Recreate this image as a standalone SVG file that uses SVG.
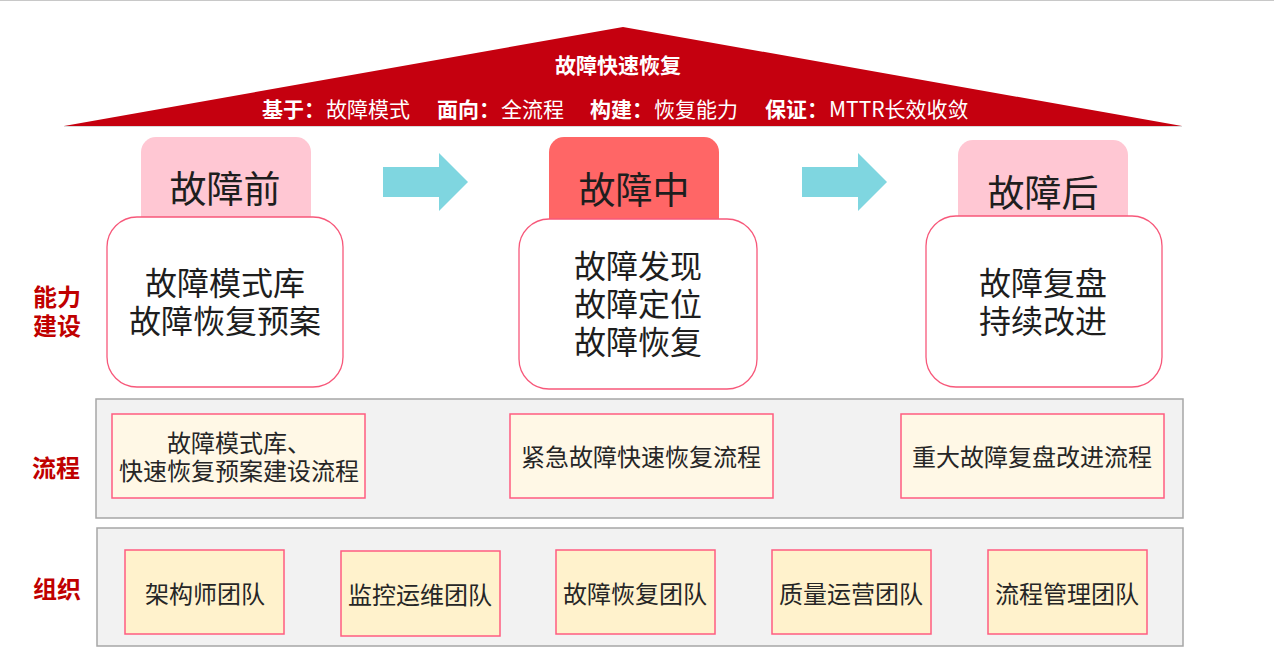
<svg xmlns="http://www.w3.org/2000/svg" width="1274" height="662" viewBox="0 0 1274 662">
<defs>
<style>
text{font-family:"Noto Sans CJK SC","Microsoft YaHei",sans-serif;dominant-baseline:central;}
.roof{fill:#C5000F;}
.wt{fill:#FFFFFF;font-size:21px;}
.b{font-weight:bold;}
.tabp{fill:#FFC7D3;}
.tabr{fill:#FF6666;}
.ph{fill:#1E1E1E;font-size:37px;text-anchor:middle;}
.card{fill:#FFFFFF;stroke:#F7587A;stroke-width:1.3;}
.ct{fill:#1E1E1E;font-size:32px;text-anchor:middle;}
.side{fill:#C00000;font-size:24px;font-weight:bold;text-anchor:middle;}
.band{fill:#F2F2F2;stroke:#A6A6A6;stroke-width:1.5;}
.proc{fill:#FFF8E6;stroke:#FF5C80;stroke-width:1.5;}
.org{fill:#FFF2CC;stroke:#FF5C80;stroke-width:1.5;}
.bt{fill:#262626;font-size:24px;text-anchor:middle;}
.arrow{fill:#7FD6E0;}
</style>
</defs>
<rect x="0" y="0" width="1274" height="662" fill="#FFFFFF"/>
<line x1="0" y1="0.5" x2="1274" y2="0.5" stroke="#C8C8C8" stroke-width="1"/>

<g id="roof">
<polygon class="roof" points="623,27 1182,126 64,126"/>
<line x1="64" y1="126.5" x2="1182" y2="126.5" stroke="#D9D9D9" stroke-width="1"/>
<text class="wt b" x="618" y="64" text-anchor="middle">故障快速恢复</text>
<text class="wt" y="108"><tspan class="b" x="262">基于：</tspan><tspan x="326">故障模式</tspan><tspan class="b" x="437">面向：</tspan><tspan x="501">全流程</tspan><tspan class="b" x="590">构建：</tspan><tspan x="654">恢复能力</tspan><tspan class="b" x="765">保证：</tspan><tspan x="829">MTTR长效收敛</tspan></text>
</g>

<g id="side-labels">
<text class="side" y="295"><tspan x="57">能力</tspan><tspan x="57" dy="29">建设</tspan></text>
<text class="side" x="56" y="466">流程</text>
<text class="side" x="57" y="587">组织</text>
</g>

<g id="phase-before">
<rect class="tabp" x="141" y="137" width="170" height="100" rx="15"/>
<text class="ph" x="225" y="187">故障前</text>
<rect class="card" x="107" y="217" width="236" height="170" rx="30"/>
<text class="ct" y="281"><tspan x="225">故障模式库</tspan><tspan x="225" dy="38">故障恢复预案</tspan></text>
</g>

<g id="phase-during">
<rect class="tabr" x="549" y="137" width="170" height="100" rx="15"/>
<text class="ph" x="634" y="188">故障中</text>
<rect class="card" x="519" y="219" width="238" height="170" rx="30"/>
<text class="ct" y="264"><tspan x="638">故障发现</tspan><tspan x="638" dy="38">故障定位</tspan><tspan x="638" dy="38">故障恢复</tspan></text>
</g>

<g id="phase-after">
<rect class="tabp" x="958" y="140" width="170" height="100" rx="15"/>
<text class="ph" x="1043" y="191">故障后</text>
<rect class="card" x="926" y="216" width="236" height="171" rx="30"/>
<text class="ct" y="281"><tspan x="1043">故障复盘</tspan><tspan x="1043" dy="38">持续改进</tspan></text>
</g>

<g id="connectors">
<polygon class="arrow" points="383,167 439,167 439,153 468,182 439,211 439,197 383,197"/>
<polygon class="arrow" points="802,167 858,167 858,153 887,182 858,211 858,197 802,197"/>
</g>

<g id="process-band">
<rect class="band" x="96" y="399" width="1087" height="119"/>
</g>
<g id="proc-1">
<rect class="proc" x="112" y="414" width="253" height="84"/>
<text class="bt" y="441"><tspan x="239">故障模式库、</tspan><tspan x="239" dy="28">快速恢复预案建设流程</tspan></text>
</g>
<g id="proc-2">
<rect class="proc" x="510" y="414" width="263" height="84"/>
<text class="bt" x="641" y="455">紧急故障快速恢复流程</text>
</g>
<g id="proc-3">
<rect class="proc" x="901" y="414" width="263" height="84"/>
<text class="bt" x="1032" y="455">重大故障复盘改进流程</text>
</g>

<g id="org-band">
<rect class="band" x="97" y="528" width="1086" height="118"/>
</g>
<g id="org-1">
<rect class="org" x="125" y="550" width="159" height="84"/>
<text class="bt" x="205" y="592">架构师团队</text>
</g>
<g id="org-2">
<rect class="org" x="341" y="551" width="159" height="85"/>
<text class="bt" x="420" y="593">监控运维团队</text>
</g>
<g id="org-3">
<rect class="org" x="556" y="550" width="159" height="84"/>
<text class="bt" x="635" y="592">故障恢复团队</text>
</g>
<g id="org-4">
<rect class="org" x="772" y="550" width="159" height="84"/>
<text class="bt" x="851" y="592">质量运营团队</text>
</g>
<g id="org-5">
<rect class="org" x="988" y="550" width="159" height="84"/>
<text class="bt" x="1067" y="592">流程管理团队</text>
</g>
</svg>
